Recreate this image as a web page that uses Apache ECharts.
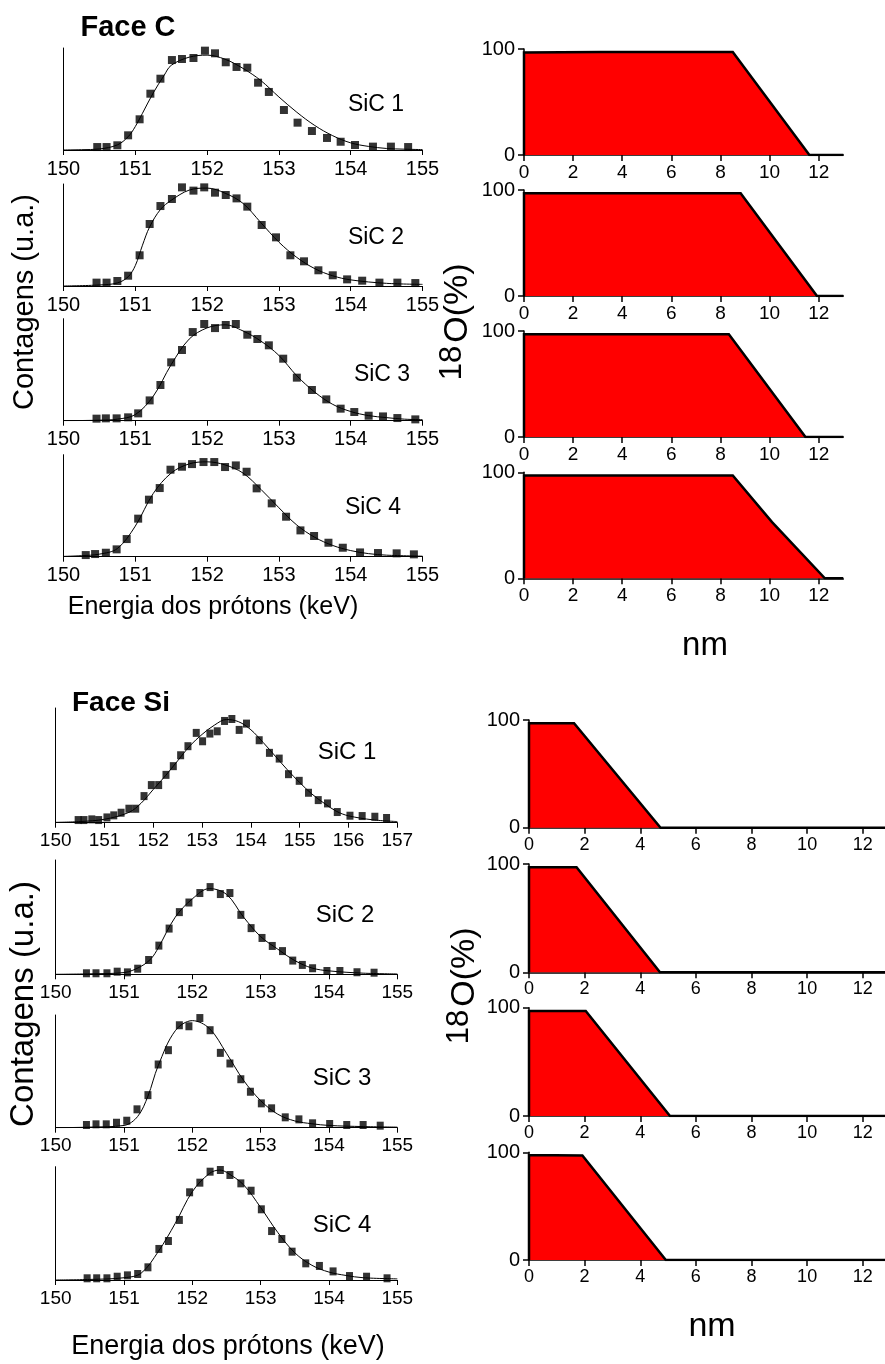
<!DOCTYPE html>
<html>
<head>
<meta charset="utf-8">
<script src="https://cdn.jsdelivr.net/npm/echarts@6/dist/echarts.min.js"></script>
<style>
  html, body { margin: 0; padding: 0; background: #fff; }
  #chart { width: 885px; height: 1364px; }
</style>
</head>
<body>
<div id="chart"></div>
<script>
// ---- Face C: proton energy spectra [keV, counts (a.u.)] ----
const faceC_sic1 = [[150.47,2.9],[150.60,2.9],[150.75,4.6],[150.90,14.4],[151.06,30.1],[151.21,55.2],[151.35,69.9],[151.51,88.2],[151.65,89.2],[151.81,90.2],[151.97,97.4],[152.11,94.8],[152.26,86.0],[152.41,81.4],[152.56,80.7],[152.71,66.0],[152.86,56.9],[153.07,39.2],[153.26,26.8],[153.46,18.6],[153.67,11.8],[153.86,8.1],[154.06,4.9],[154.31,3.3],[154.56,3.3],[154.80,2.9]];
const faceC_sic1_fit = [[150,0],[150.25,0.3],[150.5,1],[150.75,5],[150.9,13],[151,23],[151.1,36],[151.25,56],[151.4,73],[151.5,83],[151.75,91],[152,93],[152.25,89],[152.5,80],[152.75,68],[153,52],[153.25,37],[153.5,24],[153.75,14],[154,7],[154.25,3.5],[154.5,1.5],[154.75,0.8],[155,0.4]];

const faceC_sic2 = [[150.46,3.3],[150.60,3.3],[150.75,4.9],[150.90,10.1],[151.06,30.1],[151.20,60.8],[151.35,78.4],[151.51,85.3],[151.65,96.7],[151.81,93.5],[151.96,96.7],[152.11,91.5],[152.26,89.2],[152.41,85.9],[152.56,77.8],[152.76,59.8],[152.96,47.7],[153.16,30.1],[153.35,24.2],[153.55,15.4],[153.75,10.5],[153.95,6.5],[154.16,5.2],[154.40,3.3],[154.65,3.3],[154.90,2.9]];
const faceC_sic2_fit = [[150,0],[150.5,1],[150.75,3],[150.9,9],[151,20],[151.1,40],[151.2,58],[151.35,75],[151.5,84],[151.75,94],[152,96],[152.25,91],[152.5,81],[152.75,62],[153,43],[153.25,28],[153.5,17],[153.75,10],[154,6],[154.5,2.6],[155,1.6]];

const faceC_sic3 = [[150.46,2.0],[150.59,2.3],[150.74,2.3],[150.90,3.3],[151.04,7.2],[151.20,19.9],[151.35,35.0],[151.50,57.2],[151.65,69.3],[151.80,86.9],[151.96,94.8],[152.11,90.8],[152.26,93.8],[152.40,94.8],[152.56,84.3],[152.70,80.1],[152.86,73.9],[153.06,60.8],[153.25,42.2],[153.46,30.1],[153.66,20.9],[153.86,11.8],[154.05,8.5],[154.25,4.9],[154.45,4.2],[154.65,2.6],[154.90,1.3]];
const faceC_sic3_fit = [[150,0],[150.5,0.5],[150.75,1.5],[151,6],[151.25,24],[151.5,55],[151.75,80],[152,91],[152.25,94],[152.5,88],[152.75,78],[153,64],[153.25,44],[153.5,28],[153.75,16],[154,9],[154.25,5],[154.5,3],[154.75,1.5],[155,1]];

const faceC_sic4 = [[150.31,1.6],[150.44,2.6],[150.59,3.9],[150.74,7.2],[150.88,17.3],[151.04,37.3],[151.19,55.9],[151.34,67.3],[151.49,85.3],[151.65,88.2],[151.79,90.8],[151.95,92.8],[152.10,92.8],[152.25,87.9],[152.40,89.5],[152.55,83.3],[152.69,67.0],[152.90,52.3],[153.10,39.2],[153.30,25.8],[153.49,20.3],[153.69,13.7],[153.89,8.8],[154.13,4.2],[154.38,3.6],[154.64,3.3],[154.88,2.3]];
const faceC_sic4_fit = [[150,0.3],[150.25,1],[150.5,2.5],[150.75,8],[151,30],[151.25,62],[151.5,82],[151.75,91],[152,93],[152.25,90],[152.5,82],[152.75,66],[153,48],[153.25,31],[153.5,19],[153.75,11],[154,6],[154.25,3],[154.5,1.5],[155,0.5]];

// ---- Face Si: proton energy spectra ----
const faceSi_sic1 = [[150.46,2.3],[150.58,2.3],[150.74,2.9],[150.88,2.3],[151.05,4.6],[151.19,6.4],[151.34,8.7],[151.50,12.2],[151.64,12.2],[151.81,23.2],[151.96,32.8],[152.11,32.8],[152.26,41.7],[152.41,49.3],[152.56,58.8],[152.71,66.7],[152.88,78.3],[153.01,71.0],[153.16,77.7],[153.31,79.7],[153.46,88.7],[153.61,90.4],[153.76,80.9],[153.91,86.4],[154.17,71.9],[154.38,60.9],[154.58,55.9],[154.77,42.3],[154.99,36.5],[155.18,26.1],[155.38,19.7],[155.57,16.8],[155.77,9.3],[156.03,6.1],[156.28,5.8],[156.54,5.2],[156.78,4.1]];
const faceSi_sic1_fit = [[150,0.3],[150.5,1],[151,3],[151.5,9],[151.75,17],[152,29],[152.25,41],[152.5,54],[152.75,67],[153,77],[153.25,85],[153.5,90],[153.75,88],[154,81],[154.25,70],[154.5,58],[154.75,46],[155,35],[155.25,25],[155.5,17],[155.75,10],[156,6],[156.5,2.5],[157,1]];

const faceSi_sic2 = [[150.45,0.9],[150.59,0.9],[150.75,0.9],[150.90,2.3],[151.05,1.7],[151.20,4.9],[151.36,12.5],[151.51,25.1],[151.66,40.0],[151.81,54.4],[151.95,62.8],[152.11,71.1],[152.26,76.3],[152.41,70.2],[152.55,71.1],[152.71,52.0],[152.86,40.4],[153.02,31.8],[153.17,24.8],[153.32,20.3],[153.47,12.0],[153.61,8.2],[153.76,5.3],[153.97,2.9],[154.16,2.9],[154.41,1.8],[154.66,1.4]];
const faceSi_sic2_fit = [[150,0],[150.5,0.4],[151,1.5],[151.25,7],[151.4,14],[151.5,23],[151.75,50],[152,66],[152.25,75],[152.5,70],[152.75,50],[153,33],[153.25,22],[153.5,12],[153.75,5.5],[154,3],[154.5,1],[155,0.3]];

const faceSi_sic3 = [[150.45,2.4],[150.59,3.0],[150.74,3.0],[150.89,4.4],[151.04,6.2],[151.19,16.3],[151.35,28.9],[151.50,56.1],[151.65,68.8],[151.81,90.9],[151.95,90.0],[152.11,97.3],[152.26,86.5],[152.41,66.4],[152.55,57.0],[152.71,43.0],[152.85,31.9],[153.01,21.6],[153.16,17.2],[153.36,9.2],[153.56,7.4],[153.76,3.9],[154.01,3.3],[154.26,2.4],[154.50,2.4],[154.75,1.8]];
const faceSi_sic3_fit = [[150,0],[150.5,0.5],[151,2],[151.2,10],[151.35,28],[151.5,55],[151.75,86],[152,95],[152.25,88],[152.5,66],[152.75,42],[153,24],[153.25,12],[153.5,6],[153.75,3.5],[154,2],[154.5,1],[155,0.5]];

const faceSi_sic4 = [[150.46,1.5],[150.60,1.5],[150.75,1.5],[150.90,2.9],[151.05,4.1],[151.20,5.3],[151.35,11.2],[151.51,27.4],[151.65,34.4],[151.81,53.0],[151.96,77.4],[152.11,85.9],[152.26,95.6],[152.41,97.1],[152.55,92.7],[152.71,85.3],[152.86,78.8],[153.01,62.4],[153.16,43.2],[153.31,36.2],[153.46,25.0],[153.66,14.7],[153.86,12.4],[154.06,7.6],[154.30,3.5],[154.55,2.9],[154.85,1.5]];
const faceSi_sic4_fit = [[150,0],[150.5,0.5],[151,2],[151.25,6],[151.5,25],[151.75,50],[152,78],[152.25,94],[152.4,97],[152.5,95],[152.75,84],[153,64],[153.25,42],[153.5,24],[153.75,13],[154,7],[154.25,4],[154.5,2],[155,1]];

// ---- 18O depth profiles [nm, %] ----
const profC1 = [[0,0],[0,96.8],[3.1,97.2],[8.5,97.2],[11.62,0],[13,0]];
const profC2 = [[0,0],[0,97],[8.82,97],[11.93,0],[13,0]];
const profC3 = [[0,0],[0,97],[8.34,97],[11.46,0],[13,0]];
const profC4 = [[0,0],[0,97],[8.5,97],[10.1,53],[12.25,0],[13,0]];
const profSi1 = [[0,0],[0,97],[1.62,97],[4.73,0],[12.8,0]];
const profSi2 = [[0,0],[0,97],[1.71,97],[4.71,0],[12.8,0]];
const profSi3 = [[0,0],[0,97],[2.04,97],[5.07,0],[12.8,0]];
const profSi4 = [[0,0],[0,97.3],[0.93,97.3],[1.92,97],[4.92,0],[12.8,0]];

const sampleNames = ['SiC 1', 'SiC 2', 'SiC 3', 'SiC 4'];
const depthTicksC = [0, 2, 4, 6, 8, 10, 12];
const depthTicksSi = [0, 2, 4, 6, 8, 10, 12];

const FONT = '"Liberation Sans", Arial, sans-serif';

const grids = [], xAxes = [], yAxes = [], series = [], graphics = [];

function addSpectrum(box, xMax, pts, fit, opt) {
  const i = grids.length;
  grids.push({ left: box.left, top: box.top, width: box.width, height: box.height, containLabel: false });
  xAxes.push({
    gridIndex: i, type: 'value', min: 150, max: xMax, interval: 1,
    axisLine: { show: true, lineStyle: { color: '#000', width: 1 } },
    axisTick: { show: true, length: 5, lineStyle: { color: '#000' } },
    axisLabel: { color: '#000', fontSize: opt.tickSize, fontFamily: FONT, margin: 9 },
    splitLine: { show: false }
  });
  yAxes.push({
    gridIndex: i, type: 'value', min: 0, max: 100,
    axisLine: { show: true, lineStyle: { color: '#000', width: 1 } },
    axisTick: { show: false }, axisLabel: { show: false }, splitLine: { show: false }
  });
  series.push({
    type: 'line', xAxisIndex: i, yAxisIndex: i, data: fit, smooth: 0.35,
    showSymbol: false, silent: true, lineStyle: { color: '#000', width: 1 }, z: 2
  });
  series.push({
    type: 'scatter', xAxisIndex: i, yAxisIndex: i, data: pts, symbol: 'rect',
    symbolSize: opt.symbolSize, itemStyle: { color: '#000' }, silent: true, z: 3
  });
}

function addProfile(box, xMax, prof, ticks, opt) {
  const i = grids.length;
  grids.push({ left: box.left, top: box.top, width: box.width, height: box.height, containLabel: false });
  xAxes.push({
    gridIndex: i, type: 'value', min: 0, max: xMax, interval: 2,
    axisLine: { show: true, lineStyle: { color: '#000', width: 1.5 } },
    axisTick: { show: true, length: 6, customValues: ticks, lineStyle: { color: '#000', width: 1.5 } },
    axisLabel: { color: '#000', fontSize: opt.xSize, fontFamily: FONT, margin: 8, customValues: ticks },
    splitLine: { show: false }
  });
  yAxes.push({
    gridIndex: i, type: 'value', min: 0, max: 100, interval: 100,
    axisLine: { show: true, lineStyle: { color: '#000', width: 1.5 } },
    axisTick: { show: true, length: 6, lineStyle: { color: '#000', width: 1.5 } },
    axisLabel: { color: '#000', fontSize: opt.ySize, fontFamily: FONT, margin: 9 },
    splitLine: { show: false }
  });
  series.push({
    type: 'line', xAxisIndex: i, yAxisIndex: i, data: prof, showSymbol: false, silent: true,
    lineStyle: { color: '#000', width: 2.5, join: 'miter' },
    areaStyle: { color: '#ff0000', opacity: 1 }, z: 2
  });
}

function text(x, y, str, font, extra) {
  graphics.push(Object.assign({
    type: 'text', x: x, y: y, silent: true,
    style: { text: str, font: font, fill: '#000', textAlign: 'center', textVerticalAlign: 'middle' }
  }, extra || {}));
}

// Face C spectra
const cSpectra = [[faceC_sic1, faceC_sic1_fit], [faceC_sic2, faceC_sic2_fit], [faceC_sic3, faceC_sic3_fit], [faceC_sic4, faceC_sic4_fit]];
const cBottoms = [150, 286, 420.7, 556.7];
cSpectra.forEach((s, k) => {
  addSpectrum({ left: 63.5, top: cBottoms[k] - 102, width: 359, height: 102 }, 155, s[0], s[1],
    { tickSize: 20, symbolSize: 8 });
});
// Face C profiles
const cProfiles = [profC1, profC2, profC3, profC4];
const cProfTops = [49, 190, 331, 472.3];
cProfiles.forEach((p, k) => {
  addProfile({ left: 524, top: cProfTops[k], width: 319.3, height: 106 }, 13, p, depthTicksC, { xSize: 19, ySize: 20 });
});
// Face Si spectra
const siSpectra = [[faceSi_sic1, faceSi_sic1_fit, 157], [faceSi_sic2, faceSi_sic2_fit, 155], [faceSi_sic3, faceSi_sic3_fit, 155], [faceSi_sic4, faceSi_sic4_fit, 155]];
const siBoxes = [[708, 114.7], [860, 114.3], [1015, 112.7], [1166.7, 113.3]];
siSpectra.forEach((s, k) => {
  addSpectrum({ left: 55.7, top: siBoxes[k][0], width: 341.6, height: siBoxes[k][1] }, s[2], s[0], s[1],
    { tickSize: 19, symbolSize: [7, 8] });
});
// Face Si profiles
const siProfiles = [profSi1, profSi2, profSi3, profSi4];
const siProfTops = [[720, 107.7], [864, 108.3], [1007.7, 108.3], [1152.3, 107.7]];
siProfiles.forEach((p, k) => {
  addProfile({ left: 529, top: siProfTops[k][0], width: 356, height: siProfTops[k][1] }, 12.8, p, depthTicksSi, { xSize: 18, ySize: 20 });
});

// Sample labels
const cLabelPos = [[376, 105], [376, 238], [382, 375], [373, 508]];
cLabelPos.forEach((p, k) => text(p[0], p[1], sampleNames[k], '23px ' + FONT));
const siLabelPos = [[347, 752], [345, 915], [342, 1078], [342, 1225]];
siLabelPos.forEach((p, k) => text(p[0], p[1], sampleNames[k], '24px ' + FONT));

// Panel headings
text(128, 28, 'Face C', 'bold 29px ' + FONT);
text(121, 703, 'Face Si', 'bold 28px ' + FONT);

// Axis titles
text(213, 607, 'Energia dos prótons (keV)', '25px ' + FONT);
text(228, 1347, 'Energia dos prótons (keV)', '27px ' + FONT);
text(25, 302, 'Contagens (u.a.)', '29px ' + FONT, { rotation: Math.PI / 2 });
text(24, 1004, 'Contagens (u.a.)', '33px ' + FONT, { rotation: Math.PI / 2 });
text(705, 646, 'nm', '33px ' + FONT);
text(712, 1327, 'nm', '34px ' + FONT);
// 18O(%) titles: the isotope number is raised like a superscript
text(458, 303, 'O(%)', '34px ' + FONT, { rotation: Math.PI / 2 });
text(452, 363, '18', '31px ' + FONT, { rotation: Math.PI / 2 });
text(465, 967, 'O(%)', '34px ' + FONT, { rotation: Math.PI / 2 });
text(459, 1027, '18', '31px ' + FONT, { rotation: Math.PI / 2 });

const chart = echarts.init(document.getElementById('chart'), null, { renderer: 'canvas' });
chart.setOption({
  backgroundColor: '#fff',
  animation: false,
  grid: grids,
  xAxis: xAxes,
  yAxis: yAxes,
  series: series,
  graphic: graphics
});
</script>
</body>
</html>
